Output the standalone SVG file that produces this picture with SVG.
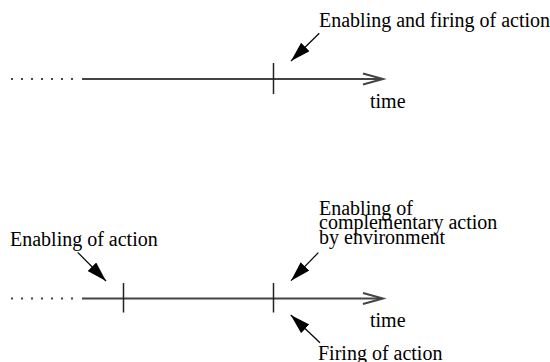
<svg xmlns="http://www.w3.org/2000/svg" width="550" height="362" viewBox="0 0 550 362">
  <style>
    .lbl { font-family: "Liberation Serif", "Times New Roman", serif; font-size: 20px; fill: #000; }
    .axis { stroke: #444; stroke-width: 2; fill: none; }
    .dots { stroke: #444; stroke-width: 2; stroke-dasharray: 2 8; }
    .tick { stroke: #222; stroke-width: 1.5; }
    .ptr { stroke: #000; stroke-width: 1.2; marker-end: url(#head); }
  </style>
  <defs>
    <marker id="head" markerUnits="userSpaceOnUse" markerWidth="22" markerHeight="14" refX="20" refY="6" orient="auto" viewBox="0 0 22 14">
      <path d="M0,0 L20,6 L0,12 z" fill="#000"/>
    </marker>
  </defs>
  <rect width="550" height="362" fill="#fff"/>

  <g id="timeline-top">
    <line class="dots" x1="11" y1="79" x2="75" y2="79"/>
    <line class="axis" x1="82" y1="79" x2="382" y2="79"/>
    <polyline class="axis" points="363,73.5 383,79 363,84.5" stroke-width="1.5"/>
    <line class="tick" x1="273.5" y1="63" x2="273.5" y2="94"/>
    <text class="lbl" x="370" y="108">time</text>
  </g>
  <g id="label-enabling-firing">
    <text class="lbl" x="319" y="27">Enabling and firing of action</text>
  </g>

  <g id="timeline-bottom">
    <line class="dots" x1="11" y1="298.5" x2="75" y2="298.5"/>
    <line class="axis" x1="82" y1="298.5" x2="382" y2="298.5"/>
    <polyline class="axis" points="363,293 383,298.5 363,304" stroke-width="1.5"/>
    <line class="tick" x1="123.5" y1="283" x2="123.5" y2="312.5"/>
    <line class="tick" x1="273.5" y1="283" x2="273.5" y2="312.5"/>
    <text class="lbl" x="370" y="326.5">time</text>
  </g>
  <g id="label-enabling">
    <text class="lbl" x="10" y="245.5">Enabling of action</text>
  </g>
  <g id="label-complementary">
    <text class="lbl" x="319" y="215">Enabling of</text>
    <text class="lbl" x="319" y="229.3">complementary action</text>
    <text class="lbl" x="319" y="243.5">by environment</text>
  </g>
  <g id="label-firing">
    <text class="lbl" x="318" y="359.5">Firing of action</text>
  </g>

  <g id="connectors">
    <line class="ptr" x1="319.3" y1="33.3" x2="291" y2="61"/>
    <line class="ptr" x1="77.7" y1="252.3" x2="106" y2="281"/>
    <line class="ptr" x1="318.3" y1="252.7" x2="291" y2="280.7"/>
    <line class="ptr" x1="320" y1="342.7" x2="290.7" y2="315"/>
  </g>
</svg>
